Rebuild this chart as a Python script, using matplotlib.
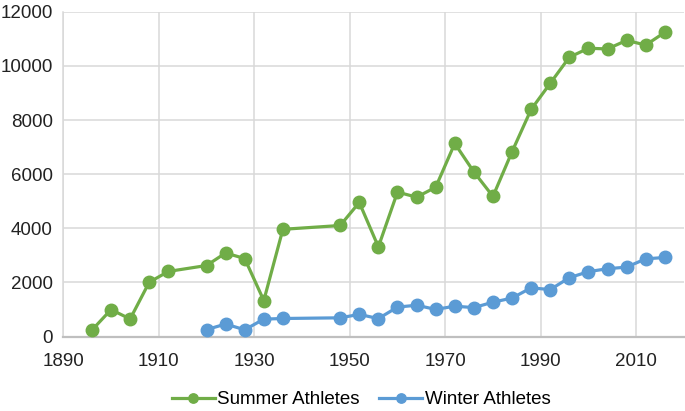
import matplotlib.pyplot as plt

plt.rcParams['font.family'] = ['Liberation Sans', 'DejaVu Sans']

# Olympic years (summer) and athlete counts
summer_years = [1896, 1900, 1904, 1908, 1912, 1920, 1924, 1928, 1932, 1936,
                1948, 1952, 1956, 1960, 1964, 1968, 1972, 1976, 1980, 1984,
                1988, 1992, 1996, 2000, 2004, 2008, 2012, 2016]
summer_athletes = [241, 997, 651, 2008, 2407, 2626, 3089, 2883, 1332, 3963,
                   4104, 4955, 3314, 5338, 5151, 5516, 7134, 6084, 5179, 6829,
                   8391, 9356, 10318, 10651, 10625, 10942, 10768, 11238]

# winter series sits on the same x positions as the summer games from 1920 on
winter_years = summer_years[5:]
winter_athletes = [258, 464, 252, 646, 669, 694, 821, 665, 1091, 1158,
                   1006, 1123, 1072, 1272, 1423, 1801, 1737, 2176, 2399, 2508,
                   2566, 2873, 2922]

x_ticks = [1890, 1910, 1930, 1950, 1970, 1990, 2010]
y_ticks = [0, 2000, 4000, 6000, 8000, 10000, 12000]

green = '#70AD47'
blue = '#5B9BD5'

fig = plt.figure(figsize=(6.85, 4.11), dpi=100)
ax = fig.add_axes([0.0924, 0.181, 0.906, 0.7905])

ax.plot(summer_years, summer_athletes, color=green, lw=2.3, marker='o',
        ms=9, label='Summer Athletes', clip_on=False, zorder=3)
ax.plot(winter_years, winter_athletes, color=blue, lw=2.3, marker='o',
        ms=9, label='Winter Athletes', clip_on=False, zorder=3)

ax.set_xlim(1890, 2020)
ax.set_ylim(0, 12000)
ax.set_xticks(x_ticks)
ax.set_yticks(y_ticks)
ax.grid(True, color='#D9D9D9', lw=1.1)
ax.set_axisbelow(True)

for side in ['top', 'right']:
    ax.spines[side].set_visible(False)
ax.spines['left'].set_color('#D9D9D9')
ax.spines['left'].set_linewidth(1.1)
ax.spines['bottom'].set_color('#BFBFBF')
ax.spines['bottom'].set_linewidth(1.6)

ax.tick_params(axis='both', length=0, labelsize=13.5, colors='#222222')
ax.tick_params(axis='y', pad=7.5)
ax.tick_params(axis='x', pad=12)

fig.legend(loc='center', bbox_to_anchor=(0.527, 0.027), ncol=2, frameon=False,
           fontsize=13.5, handlelength=2.3, columnspacing=1.05,
           handletextpad=0.12, markerscale=0.75)

fig.savefig('out.png', dpi=100)
